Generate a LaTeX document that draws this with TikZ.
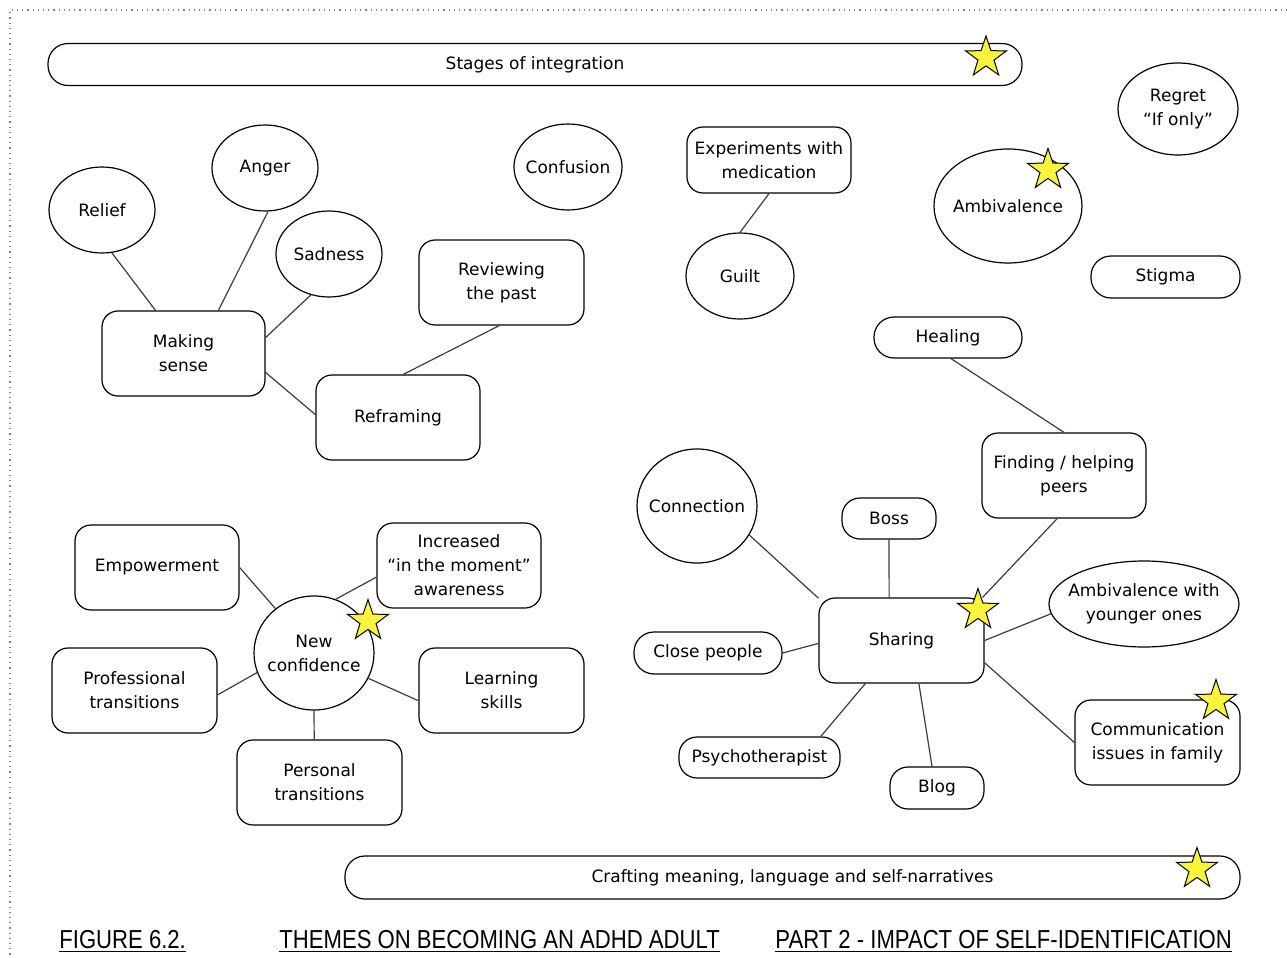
\documentclass[tikz,border=0pt]{standalone}
\usepackage{fontspec}
\setmainfont{DejaVu Sans}
\newfontfamily\capfont[FakeStretch=0.85]{Liberation Sans}
\usetikzlibrary{shapes.geometric}
\definecolor{staryellow}{RGB}{250,245,60}
\definecolor{linegray}{RGB}{60,60,60}
\tikzset{
  lbl/.style={font=\fontsize{8.5}{12}\selectfont, align=center, inner sep=0pt},
  rbox/.style={lbl, draw=black, line width=0.6pt, rectangle, rounded corners=8pt},
  bar/.style={lbl, draw=black, line width=0.6pt, rectangle, rounded corners=10pt},
  % negative inner sep lets the minimum size alone fix the ellipse
  oval/.style={lbl, draw=black, line width=0.6pt, ellipse, inner sep=-30pt},
  link/.style={draw=linegray, line width=0.6pt},
  starmark/.style={star, star points=5, star point ratio=2.55, minimum size=21.5pt,
    inner sep=0pt, draw=black, line width=0.5pt, fill=staryellow},
  caption/.style={font=\capfont\fontsize{13}{15}\selectfont, inner sep=0pt, anchor=base west}
}
\begin{document}
\begin{tikzpicture}[x=0.5pt,y=-0.5pt]
\useasboundingbox (0,0) rectangle (1287,958);
% page frame
\draw[gray, dotted, line width=0.6pt] (1287,10) -- (10,10) -- (10,958);

% theme bars
\node[bar, minimum width=487pt, minimum height=21pt] (topbar) at (535,64.5) {Stages of integration};
\node[bar, minimum width=447.5pt, minimum height=21.5pt] (botbar) at (792.5,877.5) {Crafting meaning, language and self-narratives};

% upper left cluster
\node[oval, minimum width=53pt, minimum height=43pt] (relief) at (102,210) {Relief};
\node[oval, minimum width=53pt, minimum height=43pt] (anger) at (265,168) {Anger};
\node[oval, minimum width=53pt, minimum height=43pt] (sadness) at (329,254) {Sadness};
\node[rbox, minimum width=81.5pt, minimum height=42.5pt] (making) at (183.5,353.5) {Making\\sense};
\node[rbox, minimum width=82.5pt, minimum height=42.5pt] (reviewing) at (501.5,282.5) {Reviewing\\the past};
\node[rbox, minimum width=82pt, minimum height=42.5pt] (reframing) at (398,417.5) {Reframing};

% upper middle and right
\node[oval, minimum width=54pt, minimum height=43pt] (confusion) at (568,167) {Confusion};
\node[rbox, minimum width=82pt, minimum height=33pt] (experiments) at (769,160) {Experiments with\\medication};
\node[oval, minimum width=54pt, minimum height=43pt] (guilt) at (740,276) {Guilt};
\node[oval, minimum width=60pt, minimum height=46pt] (regret) at (1178,109) {Regret\\“If only”};
\node[oval, minimum width=74pt, minimum height=57pt] (ambiv) at (1008,206) {Ambivalence};
\node[rbox, minimum width=74.5pt, minimum height=21pt, rounded corners=10pt] (stigma) at (1165.5,277) {Stigma};
\node[rbox, minimum width=74pt, minimum height=20.5pt, rounded corners=10pt] (healing) at (948,337.5) {Healing};

% sharing cluster
\node[rbox, minimum width=82pt, minimum height=42.5pt] (finding) at (1064,475.5) {Finding / helping\\peers};
\node[oval, minimum width=60pt, minimum height=57pt] (connection) at (697,506) {Connection};
\node[rbox, minimum width=47pt, minimum height=20.5pt, rounded corners=9pt] (boss) at (889,518.5) {Boss};
\node[rbox, minimum width=82.5pt, minimum height=42.5pt] (sharing) at (901.5,640.5) {Sharing};
\node[oval, minimum width=95pt, minimum height=43pt] (ambyoung) at (1144,604) {Ambivalence with\\younger ones};
\node[rbox, minimum width=74pt, minimum height=21pt, rounded corners=10pt] (close) at (708,653) {Close people};
\node[rbox, minimum width=80.5pt, minimum height=20.5pt, rounded corners=9pt] (psycho) at (759.5,757.5) {Psychotherapist};
\node[rbox, minimum width=47pt, minimum height=21pt, rounded corners=9pt] (blog) at (937,788) {Blog};
\node[rbox, minimum width=82.5pt, minimum height=42.5pt] (comm) at (1157.5,742.5) {Communication\\issues in family};

% confidence cluster
\node[rbox, minimum width=82pt, minimum height=42.5pt] (empower) at (157,567.5) {Empowerment};
\node[rbox, minimum width=82pt, minimum height=42.5pt] (increased) at (459,565.5) {Increased\\“in the moment”\\awareness};
\node[oval, minimum width=60pt, minimum height=57pt] (newconf) at (314,653) {New\\confidence};
\node[rbox, minimum width=82.5pt, minimum height=42.5pt] (prof) at (134.5,690.5) {Professional\\transitions};
\node[rbox, minimum width=82.5pt, minimum height=42.5pt] (learning) at (501.5,690.5) {Learning\\skills};
\node[rbox, minimum width=82.5pt, minimum height=42.5pt] (personal) at (319.5,782.5) {Personal\\transitions};

% connectors
\draw[link] (relief.-77) -- (making.123);
\draw[link] (anger.-86) -- (making.51);
\draw[link] (sadness.-114) -- (making.11);
\draw[link] (making.-13) -- (reframing.178);
\draw[link] (reframing.83) -- (reviewing.-93);
\draw[link] (experiments.south) -- (guilt.north);
\draw[link] (healing.-82) -- (finding.north);
\draw[link] (finding.-99) -- (sharing.28);
\draw[link] (connection.-29) -- (sharing.153);
\draw[link] (boss.south) -- (sharing.106);
\draw[link] (ambyoung.186) -- (sharing.0);
\draw[link] (close.east) -- (sharing.182);
\draw[link] (psycho.19) -- (sharing.-130);
\draw[link] (blog.103) -- (sharing.-68);
\draw[link] (comm.west) -- (sharing.-15);
\draw[link] (empower.east) -- (newconf.131);
\draw[link] (increased.188) -- (newconf.68);
\draw[link] (prof.-3) -- (newconf.199);
\draw[link] (learning.187) -- (newconf.-25);
\draw[link] (personal.97) -- (newconf.south);

% stars marking key themes
\node[starmark] (s1) at (986,57.5) {};
\node[starmark] (s2) at (1048,170) {};
\node[starmark] (s3) at (978,610) {};
\node[starmark] (s4) at (1216,701) {};
\node[starmark] (s5) at (368,621) {};
\node[starmark] (s6) at (1197,869) {};

% caption
\node[caption] (cap1) at (59,948) {\underline{FIGURE 6.2.}};
\node[caption] (cap2) at (279,948) {\underline{THEMES ON BECOMING AN ADHD ADULT}};
\node[caption] (cap3) at (775,948) {\underline{PART 2 - IMPACT OF SELF-IDENTIFICATION}};
\end{tikzpicture}
\end{document}
